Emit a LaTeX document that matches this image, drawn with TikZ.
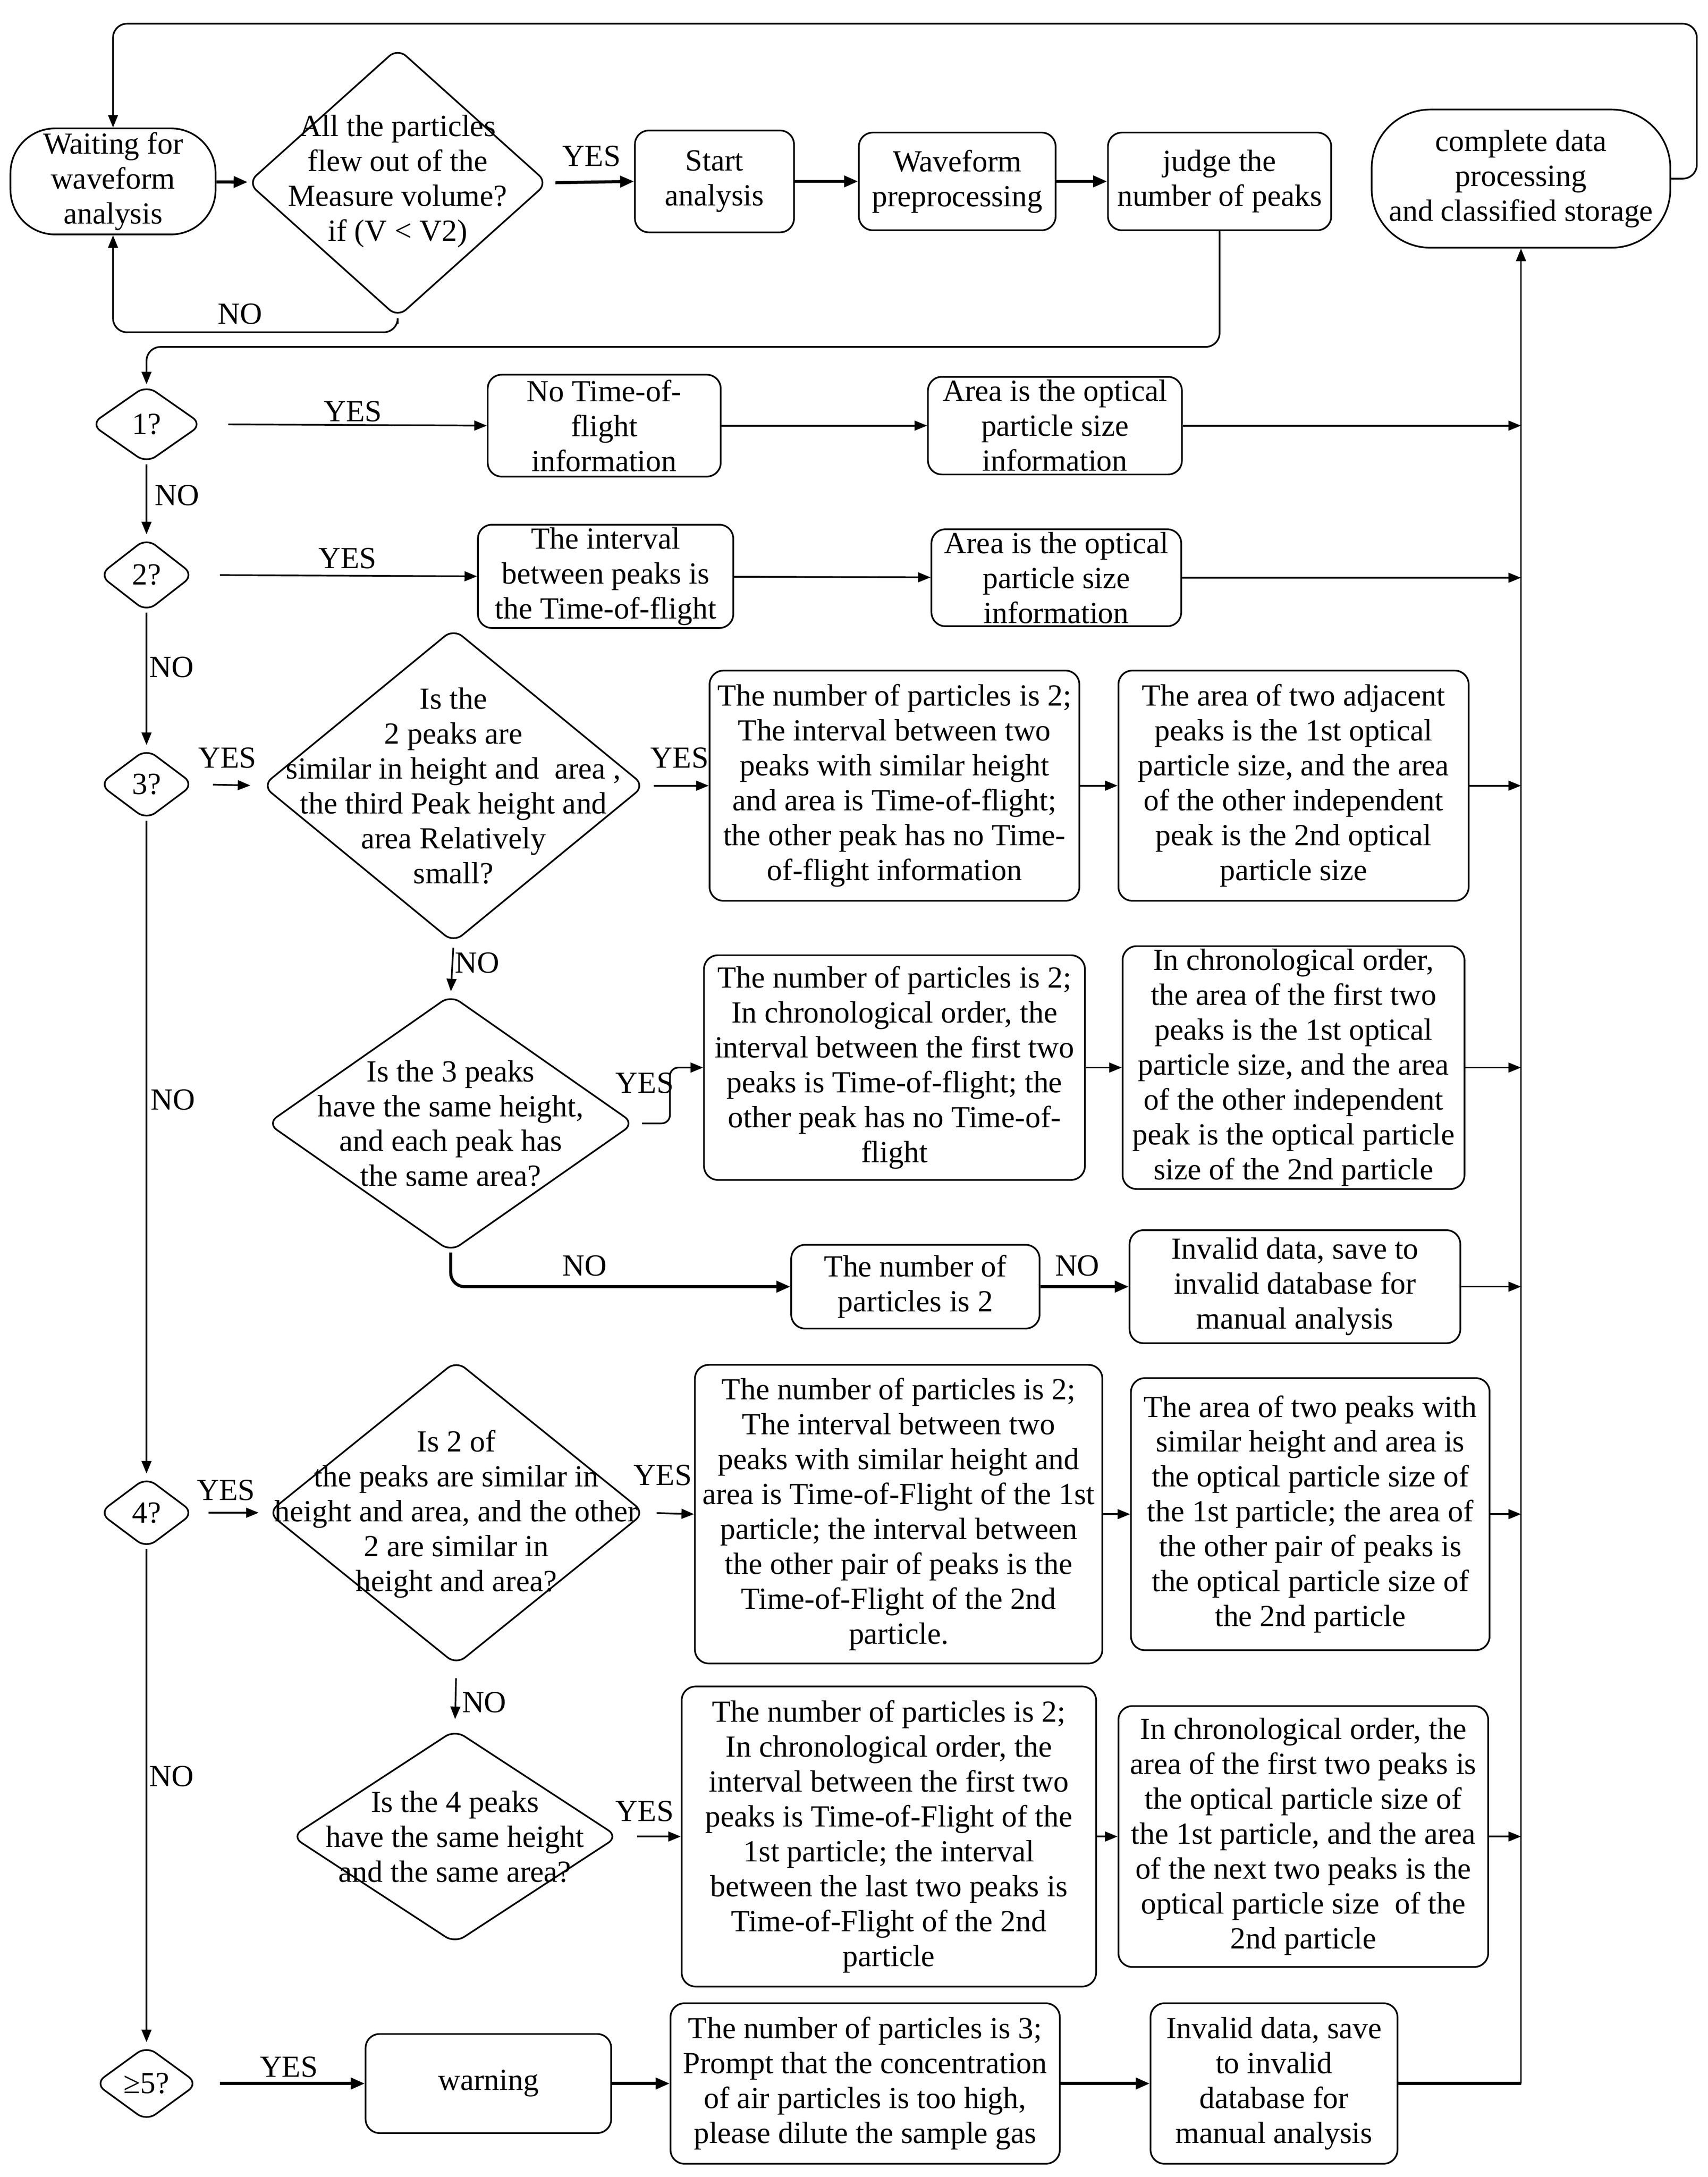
\documentclass[tikz,border=0pt]{standalone}
\usepackage{fontspec}
\setmainfont{Liberation Serif}
\usetikzlibrary{shapes.geometric,arrows.meta}
\tikzset{
	box/.style={draw,line width=1.2pt,rectangle,rounded corners=10pt,align=center,inner sep=2pt},
	stadium/.style={box,rounded corners=32pt},
	dia/.style={draw,line width=1.2pt,diamond,rounded corners=8pt,inner sep=0pt},
	dtext/.style={align=center,inner sep=0pt},
	arr/.style={-{Triangle[length=9pt,width=7pt]},line width=1.2pt},
	barr/.style={-{Triangle[length=10pt,width=8pt]},line width=2.2pt},
	wire/.style={line width=1.2pt}
}
\begin{document}
\begin{tikzpicture}[x=1pt,y=-1pt,font=\fontsize{22}{25}\selectfont]
	\useasboundingbox (0,0) rectangle (1224,1560);
	\node[stadium,minimum width=147,minimum height=76] (wait) at (81,130) {Waiting for\\waveform\\analysis};
	\node[dia,minimum width=215,minimum height=193] (d0) at (285,131) {};
	\node[dtext] (d0t) at (285,130) {All the particles\\flew out of the\\Measure volume?\\if (V < V2)};
	\node[box,minimum width=114,minimum height=73] (start) at (512,130) {Start\\analysis};
	\node[box,minimum width=141,minimum height=70] (wave) at (686,130) {Waveform\\preprocessing};
	\node[box,minimum width=160,minimum height=70] (judge) at (874,130) {judge the\\number of peaks};
	\node[stadium,rounded corners=42pt,minimum width=214,minimum height=99] (store) at (1090,128) {complete data\\processing\\and classified storage};
	\node[dia,minimum width=80,minimum height=56] (q1) at (105,304) {1?};
	\node[box,minimum width=167,minimum height=73] (notof) at (433,305) {No Time-of-\\flight\\information};
	\node[box,minimum width=182,minimum height=70] (area1) at (756,305) {Area is the optical\\particle size\\information};
	\node[dia,minimum width=68,minimum height=53] (q2) at (105,412) {2?};
	\node[box,minimum width=183,minimum height=71] (intv) at (434,413) {The interval\\between peaks is\\the Time-of-flight};
	\node[box,minimum width=179,minimum height=68] (area2) at (757,414) {Area is the optical\\particle size\\information};
	\node[dia,minimum width=68,minimum height=51] (q3) at (105,562) {3?};
	\node[dia,minimum width=274,minimum height=225] (d3) at (325,563) {};
	\node[dtext] (d3t) at (325,563) {Is the\\2 peaks are\\similar in height and~ area ,\\the third Peak height and\\area Relatively\\small?};
	\node[box,minimum width=265,minimum height=165] (p3a) at (641,563) {The number of particles is 2;\\The interval between two\\peaks with similar height\\and area is Time-of-flight;\\the other peak has no Time-\\of-flight information};
	\node[box,minimum width=251,minimum height=165] (s3a) at (927,563) {The area of two adjacent\\peaks is the 1st optical\\particle size, and the area\\of the other independent\\peak is the 2nd optical\\particle size};
	\node[dia,minimum width=263,minimum height=184] (d3b) at (323,805) {};
	\node[dtext] (d3bt) at (323,805) {Is the 3 peaks\\have the same height,\\and each peak has\\the same area?};
	\node[box,minimum width=273,minimum height=161] (p3b) at (641,765) {The number of particles is 2;\\In chronological order, the\\interval between the first two\\peaks is Time-of-flight; the\\other peak has no Time-of-\\flight};
	\node[box,minimum width=245,minimum height=174] (s3b) at (927,765) {In chronological order,\\the area of the first two\\peaks is the 1st optical\\particle size, and the area\\of the other independent\\peak is the optical particle\\size of the 2nd particle};
	\node[box,minimum width=178,minimum height=60] (n3) at (656,922) {The number of\\particles is 2};
	\node[box,minimum width=237,minimum height=81] (inv3) at (928,922) {Invalid data, save to\\invalid database for\\manual analysis};
	\node[dia,minimum width=68,minimum height=51] (q4) at (105,1084) {4?};
	\node[dia,minimum width=270,minimum height=218] (d4) at (327,1084) {};
	\node[dtext] (d4t) at (327,1085) {Is 2 of\\the peaks are similar in\\height and area, and the other\\2 are similar in\\height and area?};
	\node[box,minimum width=292,minimum height=214] (p4a) at (644,1085) {The number of particles is 2;\\The interval between two\\peaks with similar height and\\area is Time-of-Flight of the 1st\\particle; the interval between\\the other pair of peaks is the\\Time-of-Flight of the 2nd\\particle.};
	\node[box,minimum width=257,minimum height=195] (s4a) at (939,1085) {The area of two peaks with\\similar height and area is\\the optical particle size of\\the 1st particle; the area of\\the other pair of peaks is\\the optical particle size of\\the 2nd particle};
	\node[dia,minimum width=234,minimum height=153] (d4b) at (326,1316) {};
	\node[dtext] (d4bt) at (326,1316) {Is the 4 peaks\\have the same height\\and the same area?};
	\node[box,minimum width=297,minimum height=215] (p4b) at (637,1316) {The number of particles is 2;\\In chronological order, the\\interval between the first two\\peaks is Time-of-Flight of the\\1st particle; the interval\\between the last two peaks is\\Time-of-Flight of the 2nd\\particle};
	\node[box,minimum width=265,minimum height=187] (s4b) at (934,1316) {In chronological order, the\\area of the first two peaks is\\the optical particle size of\\the 1st particle, and the area\\of the next two peaks is the\\optical particle size~ of the\\2nd particle};
	\node[dia,minimum width=74,minimum height=54] (q5) at (105,1493) {≥5?};
	\node[box,minimum width=176,minimum height=71] (warn) at (350,1493) {warning};
	\node[box,minimum width=279,minimum height=115] (p5) at (620,1493) {The number of particles is 3;\\Prompt that the concentration\\of air particles is too high,\\please dilute the sample gas};
	\node[box,minimum width=177,minimum height=115] (inv5) at (913,1493) {Invalid data, save\\to invalid\\database for\\manual analysis};
	\node (no0) at (172,225) {NO};
	\node (yes0) at (424,112) {YES};
	\node (yes1) at (253,295) {YES};
	\node (no1) at (127,355) {NO};
	\node (yes2) at (249,400) {YES};
	\node (no2) at (123,478) {NO};
	\node (yes3) at (163,543) {YES};
	\node (yes3a) at (487,543) {YES};
	\node (no3a) at (342,690) {NO};
	\node (yes3b) at (462,776) {YES};
	\node (no3b) at (419,907) {NO};
	\node (no3c) at (772,907) {NO};
	\node (no3) at (124,788) {NO};
	\node (yes4) at (162,1068) {YES};
	\node (yes4a) at (475,1057) {YES};
	\node (no4a) at (347,1220) {NO};
	\node (yes4b) at (462,1298) {YES};
	\node (no4) at (123,1273) {NO};
	\node (yes5) at (207,1481) {YES};
	\coordinate (loop) at (1216,17);
	\draw[barr] (wait) -- (d0);
	\draw[barr,shorten <=5pt] (d0.east) -- (start.west);
	\draw[barr] (start) -- (wave);
	\draw[barr] (wave) -- (judge);
	\draw[arr,rounded corners=10pt] (store.east) -| (loop) -| (wait.north);
	\draw[arr,rounded corners=10pt] (d0.south) ++(0,4) -- ++(0,6) -| (wait.south);
	\draw[arr,rounded corners=10pt] (judge.south) -- ++(0,83) -| (q1.north);
	\draw[arr,shorten <=18pt] (q1.east) -- (notof.west);
	\draw[arr] (notof) -- (area1);
	\draw[arr] (area1.east) -- (area1.east -| store.south);
	\draw[arr,shorten >=2pt] (q1.south) -- (q2.north);
	\draw[arr,shorten <=18pt] (q2.east) -- (intv.west);
	\draw[arr] (intv) -- (area2);
	\draw[arr] (area2.east) -- (area2.east -| store.south);
	\draw[arr,shorten >=2pt] (q2.south) -- (q3.north);
	\draw[arr,shorten <=13pt,shorten >=8pt] (q3.east) -- (d3.west);
	\draw[arr,shorten <=6pt] (d3.east) -- (p3a.west);
	\draw[arr] (p3a) -- (s3a);
	\draw[arr] (s3a.east) -- (s3a.east -| store.south);
	\draw[arr,shorten <=3pt,shorten >=2pt] (d3.south) -- (d3b.north);
	\draw[arr,rounded corners=6pt] (d3b.east) ++(5,0) -- ++(20,0) |- (p3b.west);
	\draw[arr] (p3b.east) -- (p3b.east -| s3b.west);
	\draw[arr] (s3b.east) -- (s3b.east -| store.south);
	\draw[barr,rounded corners=10pt] (d3b.south) |- (n3.west);
	\draw[barr] (n3) -- (inv3);
	\draw[arr] (inv3.east) -- (inv3.east -| store.south);
	\draw[arr,shorten >=2pt] (q3.south) -- (q4.north);
	\draw[arr,shorten <=10pt,shorten >=6pt] (q4.east) -- (d4.west);
	\draw[arr,shorten <=8pt] (d4.east) -- (p4a.west);
	\draw[arr] (p4a) -- (s4a);
	\draw[arr] (s4a.east) -- (s4a.east -| store.south);
	\draw[arr,shorten <=9pt,shorten >=7pt] (d4.south) -- (d4b.north);
	\draw[arr,shorten <=13pt] (d4b.east) -- (p4b.west);
	\draw[arr] (p4b) -- (s4b);
	\draw[arr] (s4b.east) -- (s4b.east -| store.south);
	\draw[arr,shorten >=2pt] (q4.south) -- (q5.north);
	\draw[barr,shorten <=15pt] (q5.east) -- (warn.west);
	\draw[barr] (warn) -- (p5);
	\draw[barr] (p5) -- (inv5);
	\draw[wire,line width=2.2pt] (inv5.east) -- (inv5.east -| store.south);
	\draw[arr] (inv5.east -| store.south) -- (store.south);
\end{tikzpicture}
\end{document}
